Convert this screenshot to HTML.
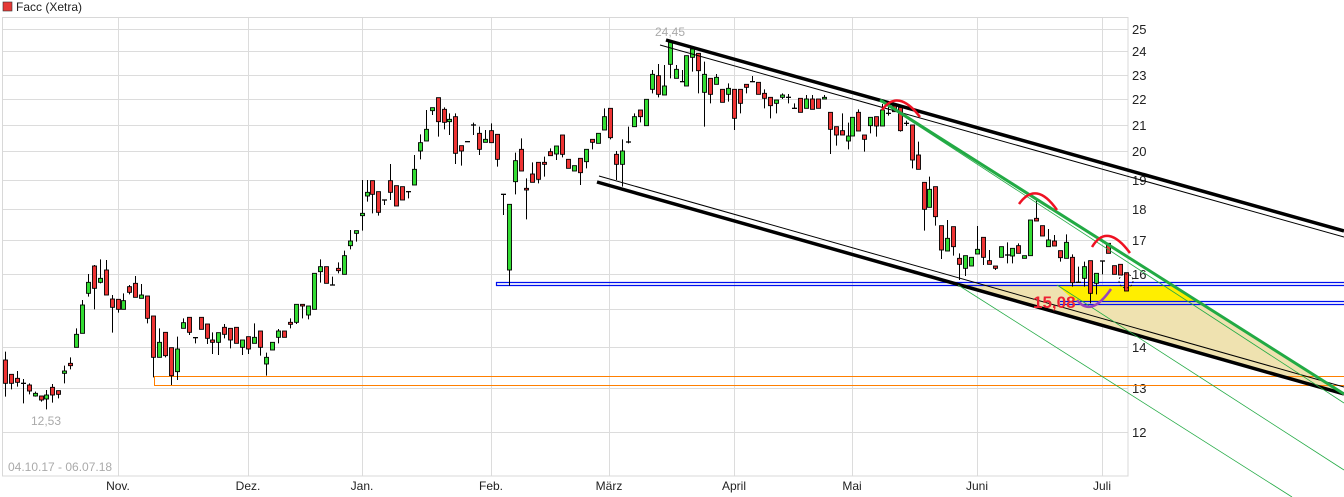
<!DOCTYPE html>
<html><head><meta charset="utf-8"><style>
html,body{margin:0;padding:0;background:#fff;}
svg{display:block;font-family:"Liberation Sans",sans-serif;}
</style></head><body>
<svg id="s" width="1344" height="497" xmlns="http://www.w3.org/2000/svg">
<rect x="0" y="0" width="1344" height="497" fill="#fff"/>
<g id="grid" stroke="#dcdcdc" stroke-width="1"></g>
<rect x="2.5" y="17.5" width="1125.5" height="458.5" fill="none" stroke="#d8d8d8"/>
<rect x="3" y="2" width="9" height="9" fill="#e53935" stroke="#333" stroke-width="0.6"/>
<text x="16" y="11" font-size="12" fill="#222">Facc (Xetra)</text>
<g id="ylab" font-size="13" fill="#222"></g>
<g id="xlab" font-size="12" fill="#222" text-anchor="middle"></g>
<!-- fills -->
<polygon points="958,284 1172,285 1344,394 958,286" fill="#efe2b0"/>
<polygon points="1058,286 1172,286 1197,301 1075,301" fill="#ffee00"/>
<!-- orange -->
<g stroke="#ff7f00" stroke-width="1" fill="none">
<line x1="154" y1="376.5" x2="1344" y2="376.5"/><line x1="154" y1="385.5" x2="1344" y2="385.5"/><line x1="154.5" y1="376" x2="154.5" y2="386"/>
</g>
<!-- blue -->
<g stroke="#0010ee" stroke-width="1.2" fill="none">
<line x1="496" y1="282.5" x2="1344" y2="282.5"/><line x1="496" y1="285.5" x2="1344" y2="285.5"/><line x1="496.5" y1="282" x2="496.5" y2="286"/>
<line x1="1060" y1="301.5" x2="1344" y2="301.5"/><line x1="1060" y1="304.5" x2="1344" y2="304.5"/>
</g>
<g id="candles"></g>
<!-- black channel -->
<g stroke="#000" fill="none">
<line x1="666" y1="40" x2="1344" y2="231" stroke-width="3.5"/>
<line x1="660" y1="45" x2="1344" y2="237" stroke-width="1"/>
<line x1="597" y1="182" x2="1344" y2="394" stroke-width="3.5"/>
<line x1="599" y1="176" x2="1344" y2="387" stroke-width="1"/>
</g>
<!-- green -->
<g stroke="#22aa44" fill="none">
<line x1="880" y1="100" x2="1344" y2="394" stroke-width="3"/>
<line x1="894" y1="110" x2="1344" y2="403" stroke-width="0.8"/>
<line x1="958" y1="285" x2="1292" y2="497" stroke-width="0.8"/>
<line x1="1057" y1="285" x2="1344" y2="470" stroke-width="0.8"/>
</g>
<!-- arcs -->
<g stroke="#ee1122" stroke-width="2.5" fill="none">
<path d="M882,110 Q898,88 920,117"/>
<path d="M1019,204 Q1036,180 1057,210"/>
<path d="M1092,247 Q1107,222 1130,253"/>
</g>
<path d="M1077,300 Q1091,318 1111,289" stroke="#9944bb" stroke-width="2.5" fill="none"/>
<circle cx="1126" cy="281" r="7" fill="none" stroke="#000" stroke-width="0.8" stroke-dasharray="2,2"/>
<text x="1033" y="308" font-size="17" font-weight="bold" fill="#ee2233">15,08</text>
<text x="655" y="36" font-size="12" fill="#aaa">24,45</text>
<text x="31" y="425" font-size="12" fill="#aaa">12,53</text>
<text x="8" y="471" font-size="12" fill="#aaa">04.10.17 - 06.07.18</text>
</svg>
<script>
var NS="http://www.w3.org/2000/svg";
function el(p,t,a,txt){var e=document.createElementNS(NS,t);for(var k in a)e.setAttribute(k,a[k]);if(txt)e.textContent=txt;p.appendChild(e);return e;}
var g=document.getElementById('grid');
var hy=[29,51,75,99,125,151,180,209,240,274,309,347,388,432];
var hl=[25,24,23,22,21,20,19,18,17,16,15,14,13,12];
hy.forEach(function(y){el(g,'line',{x1:2,y1:y+.5,x2:1128,y2:y+.5});});
var vx=[118,248,362,491,609,734,852,977,1102];
var vl=['Nov.','Dez.','Jan.','Feb.','März','April','Mai','Juni','Juli'];
vx.forEach(function(x){el(g,'line',{x1:x+.5,y1:17,x2:x+.5,y2:476});});
var yl=document.getElementById('ylab');
hy.forEach(function(y,i){el(yl,'text',{x:1132,y:y+5},String(hl[i]));});
var xl=document.getElementById('xlab');
vx.forEach(function(x,i){el(xl,'text',{x:x,y:490},vl[i]);});
var Z1=[[15,1080,1150,'r',1055,1190],[33,1123,1150,'r',0,1168],[51,1135,1147,'r',1113,1160],[69,1150,1150,'d',1137,1210],[87,1155,1173,'r',1150,1183],[105,1180,1188,'g',1175,1190],[123,1188,1200,'r',0,1205],[139,1185,1197,'g',1170,1228],[157,1162,1185,'r',1152,1208],[175,1172,1183,'r',0,1195],[193,1113,1120,'g',1097,1150],[211,1090,1097,'r',1072,1108],[229,1003,1042,'g',985,0],[247,915,1000,'g',900,0],[265,847,880,'g',822,890],[283,798,865,'r',795,928],[301,835,847,'g',778,850],[319,810,885,'r',780,0],[337,897,922,'r',885,998],[355,898,928,'r',0,938],[370,902,928,'g',880,0],[388,860,877,'r',855,883],[406,850,892,'r',828,0],[424,885,895,'g',852,0],[442,888,955,'r',0,970],[460,948,1072,'r',0,1132],[478,1027,1072,'g',985,0],[496,997,1067,'r',0,1072],[514,1043,1127,'r',0,1155],[532,1047,1115,'g',1010,1140],[550,968,985,'g',955,0],[568,952,997,'r',0,1005],[586,1013,1013,'d',0,1030],[604,952,988,'r',0,0],[620,972,1015,'r',0,1032],[637,1020,1027,'r',997,1062],[655,998,1027,'g',0,1065],[673,982,1003,'r',972,1015],[691,985,1020,'r',0,1045],[709,982,1030,'r',0,0],[727,1020,1042,'g',0,1065],[745,1010,1047,'r',0,1062],[763,1012,1030,'g',970,0],[781,993,1042,'r',0,1067],[799,1072,1092,'g',1058,1127],[817,1027,1050,'g',0,0],[835,993,1012,'g',987,1030],[853,993,1012,'r',0,0],[869,967,973,'r',955,985],[887,913,967,'g',0,972],[905,913,918,'r',0,955],[923,918,945,'g',0,958],[941,820,928,'g',0,0],[959,800,815,'g',778,848],[977,800,850,'r',0,0],[995,855,855,'d',830,0],[1013,805,812,'r',787,820],[1031,767,823,'g',752,0],[1049,723,737,'g',690,748],[1067,692,700,'g',0,725],[1085,640,647,'g',540,692],[1100,577,588,'g',540,605],[1117,542,583,'r',0,640],[1135,575,637,'r',0,647],[1153,600,600,'d',0,615],[1171,542,577,'r',492,600],[1189,557,618,'r',0,0],[1207,560,600,'r',0,0],[1225,575,575,'d',0,595],[1243,508,555,'g',465,0],[1261,428,453,'g',403,478],[1279,388,423,'g',330,0],[1297,323,332,'g',0,345],[1315,293,365,'r',0,410],[1333,328,367,'r',322,388],[1347,358,365,'g',340,405]];
var Z2=[[15,350,460,'r',340,492],[33,437,453,'r',0,497],[51,425,425,'d',0,0],[69,375,375,'d',368,405],[87,400,448,'r',380,465],[105,418,427,'g',390,0],[123,392,428,'r',370,0],[141,403,478,'r',0,500],[159,583,583,'d',0,645],[177,613,810,'g',0,857],[195,482,545,'g',458,583],[213,448,513,'r',415,0],[229,565,570,'r',535,658],[247,522,547,'r',487,0],[265,487,538,'r',0,550],[283,487,493,'r',470,530],[301,455,467,'r',445,0],[319,438,462,'g',0,480],[337,405,463,'r',0,472],[355,478,505,'r',0,0],[373,497,513,'g',0,0],[391,475,518,'r',0,555],[409,448,485,'g',0,505],[427,418,427,'r',0,448],[445,400,430,'g',0,0],[463,350,390,'g',325,0],[479,325,413,'r',0,418],[497,463,493,'r',453,540],[515,453,493,'g',418,560],[533,426,426,'d',380,430],[551,350,380,'g',340,0],[569,330,350,'r',0,367],[587,298,377,'g',0,0],[605,223,268,'g',210,280],[623,227,283,'r',192,292],[641,258,285,'g',195,0],[659,127,193,'g',120,235],[677,208,235,'g',195,0],[695,245,245,'d',210,0],[709,167,258,'g',0,0],[727,147,172,'g',140,215],[745,160,212,'r',0,280],[763,223,277,'g',185,380],[781,235,283,'r',0,310],[799,232,253,'g',222,0],[817,268,307,'r',0,0],[835,265,283,'g',250,305],[853,268,355,'r',0,390],[871,268,310,'r',0,340],[889,253,262,'r',0,280],[907,245,245,'d',228,0],[925,247,283,'r',0,0],[943,280,295,'r',268,325],[959,292,317,'r',0,355],[977,300,310,'g',0,340],[995,285,292,'g',280,297],[1013,292,292,'d',282,310],[1031,325,325,'d',310,0],[1049,295,337,'r',0,0],[1067,297,325,'g',285,0],[1085,297,328,'r',285,0],[1103,297,325,'r',0,0],[1121,292,297,'g',285,0],[1139,337,388,'r',0,462],[1157,380,405,'r',0,437],[1175,392,405,'r',340,0],[1193,408,423,'g',368,448],[1207,352,408,'g',0,0],[1225,337,393,'r',328,0],[1243,405,418,'r',0,455],[1261,352,377,'g',0,400],[1279,350,378,'r',0,410],[1297,330,378,'g',312,0],[1315,340,340,'d',320,347],[1333,318,335,'r',0,0]];
var Z3=[[18,322,392,'r',0,395],[36,370,370,'d',362,378],[55,375,480,'r',0,505],[73,465,508,'r',425,0],[91,547,628,'r',0,692],[106,568,622,'g',530,0],[124,560,650,'r',0,677],[142,677,750,'r',0,777],[160,715,753,'g',660,0],[178,680,740,'r',0,767],[196,775,793,'r',760,840],[214,767,805,'g',0,828],[232,772,798,'g',0,0],[250,748,762,'g',678,0],[268,712,772,'r',0,795],[286,782,793,'r',750,0],[304,798,805,'r',0,810],[322,740,772,'g',0,0],[340,765,765,'d',727,790],[355,745,768,'g',0,790],[373,737,760,'r',730,0],[391,767,775,'g',0,0],[409,660,767,'g',0,0],[427,655,663,'r',595,0],[445,677,708,'r',0,0],[463,720,740,'g',687,0],[481,723,738,'r',705,0],[499,752,773,'r',0,785],[517,727,775,'g',703,0],[535,772,848,'r',763,860],[553,847,847,'d',800,0],[571,800,835,'g',785,860],[587,782,880,'r',0,910],[605,820,850,'g',0,883],[623,783,783,'d',0,823],[641,730,760,'r',0,0],[659,797,823,'r',0,0],[677,793,825,'r',0,0],[695,818,873,'r',0,0]];
var c=document.getElementById('candles');
function draw(arr,off){arr.forEach(function(d){
 var x=Math.round(off+d[0]/3)+0.5,t=d[1]/3,b=d[2]/3;
 var wt=d[4]?d[4]/3:t, wb=d[5]?d[5]/3:b;
 if(wt<t||wb>b) el(c,'line',{x1:x,y1:wt,x2:x,y2:wb,stroke:'#000','stroke-width':1});
 if(d[3]=='d'){el(c,'line',{x1:x-2.5,y1:t,x2:x+2.5,y2:t,stroke:'#000','stroke-width':1.3});}
 else{var h=Math.max(b-t,1.5);el(c,'rect',{x:x-2,y:t,width:4,height:h,fill:d[3]=='g'?'#33dd33':'#ee3333',stroke:'#000','stroke-width':0.9});}
});}
draw(Z1,0);draw(Z2,450);draw(Z3,894);
</script>
</body></html>
